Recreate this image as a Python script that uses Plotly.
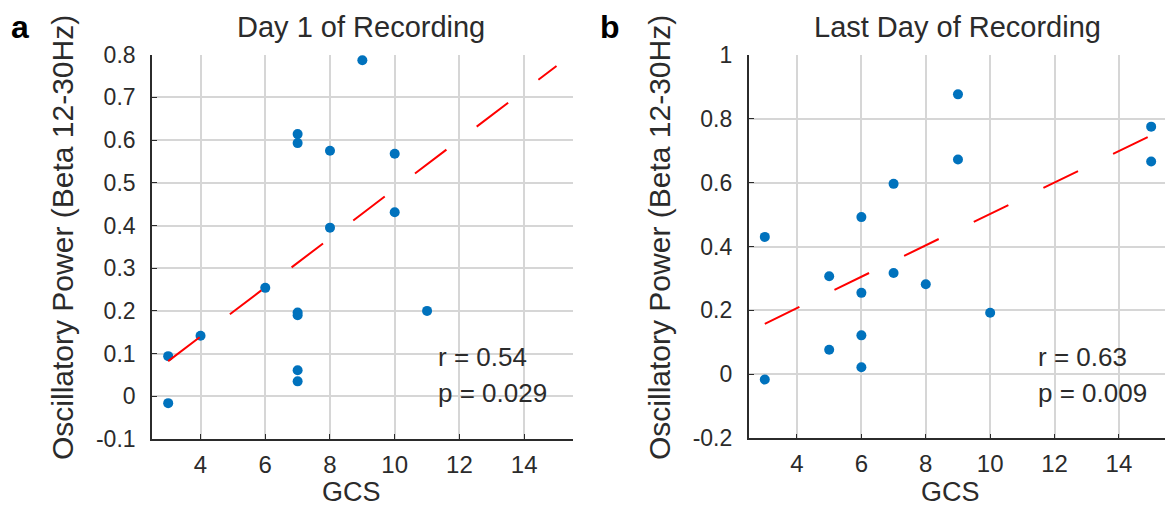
import numpy as np
import plotly.graph_objects as go

# ---------------- data ----------------
gcs_day1 = [3, 3, 4, 6, 7, 7, 7, 7, 7, 7, 8, 8, 9, 10, 10, 11]
beta_day1 = [0.094, -0.016, 0.142, 0.254, 0.614, 0.593, 0.196, 0.190, 0.061, 0.035,
             0.575, 0.395, 0.787, 0.568, 0.431, 0.200]

gcs_last = [3, 3, 5, 5, 6, 6, 6, 6, 7, 7, 8, 9, 9, 10, 15, 15]
beta_last = [0.430, -0.016, 0.307, 0.077, 0.492, 0.255, 0.122, 0.022, 0.596, 0.317,
             0.282, 0.876, 0.672, 0.193, 0.775, 0.666]

fit_x_span = [3, 15]

x_tickvals = [4, 6, 8, 10, 12, 14]
x_ticktext = ["4", "6", "8", "10", "12", "14"]
ya_tickvals = [-0.1, 0, 0.1, 0.2, 0.3, 0.4, 0.5, 0.6, 0.7, 0.8]
ya_ticktext = ["-0.1", "0", "0.1", "0.2", "0.3", "0.4", "0.5", "0.6", "0.7", "0.8"]
yb_tickvals = [-0.2, 0, 0.2, 0.4, 0.6, 0.8, 1.0]
yb_ticktext = ["-0.2", "0", "0.2", "0.4", "0.6", "0.8", "1"]

titles = ["Day 1 of Recording", "Last Day of Recording"]
stats_a = ["r = 0.54", "p = 0.029"]
stats_b = ["r = 0.63", "p = 0.009"]
panel_letters = ["a", "b"]
xlabel = "GCS"
ylabel = "Oscillatory Power (Beta 12-30Hz)"

# ---------------- styling ----------------
W, H = 1165, 520
FONT = "Liberation Sans, Arial, Helvetica, sans-serif"
TXT = "#2b2b2b"
BLUE = "#0072BD"
GRID = "#D6D6D6"


def px(xp):
    return xp / W


def py(yp):
    return 1 - yp / H


fig = go.Figure()


def add_panel(xs, ys, xa, ya, dash):
    fig.add_trace(go.Scatter(
        x=xs, y=ys, mode="markers", xaxis=xa, yaxis=ya,
        marker=dict(color=BLUE, size=10, line=dict(width=0)),
        showlegend=False, hoverinfo="skip", cliponaxis=False))
    slope, inter = np.polyfit(xs, ys, 1)
    fx = np.array(fit_x_span, dtype=float)
    fig.add_trace(go.Scatter(
        x=fx, y=slope * fx + inter, mode="lines", xaxis=xa, yaxis=ya,
        line=dict(color="#FF0000", width=2, dash=dash),
        showlegend=False, hoverinfo="skip"))


add_panel(gcs_day1, beta_day1, "x", "y", "39.5px,38px")
add_panel(gcs_last, beta_last, "x2", "y2", "38.5px,39px")

common_axis = dict(
    showline=True, linecolor=TXT, linewidth=1.6, mirror=False,
    ticks="inside", ticklen=5, tickwidth=1.3, tickcolor=TXT,
    showgrid=True, gridcolor=GRID, gridwidth=1.5, zeroline=False,
    automargin=False,
    tickfont=dict(family=FONT, size=23, color=TXT),
)

fig.update_layout(
    template="none",
    width=W, height=H,
    margin=dict(l=0, r=0, t=0, b=0, pad=0, autoexpand=False),
    paper_bgcolor="white", plot_bgcolor="white",
    font=dict(family=FONT, color=TXT),
    xaxis=dict(common_axis, domain=[px(152), px(572.7)], range=[2.5, 15.5],
               tickvals=x_tickvals, ticktext=x_ticktext, anchor="y",
               tickfont=dict(family=FONT, size=24, color=TXT), ticklabelstandoff=3),
    yaxis=dict(common_axis, domain=[py(439), py(54.7)], range=[-0.1, 0.8],
               tickvals=ya_tickvals, ticktext=ya_ticktext, anchor="x",
               ticklabelstandoff=10),
    xaxis2=dict(common_axis, domain=[px(748.7), 1.0], range=[2.5, 15.43],
                tickvals=x_tickvals, ticktext=x_ticktext, anchor="y2",
                tickfont=dict(family=FONT, size=24, color=TXT), ticklabelstandoff=3),
    yaxis2=dict(common_axis, domain=[py(438.3), py(54.7)], range=[-0.2, 1.0],
                tickvals=yb_tickvals, ticktext=yb_ticktext, anchor="x2",
                ticklabelstandoff=10),
)

ann = []
# panel letters
for letter, xp in zip(panel_letters, [9, 598]):
    ann.append(dict(text="<b>%s</b>" % letter, x=px(xp), y=py(27), xref="paper", yref="paper",
                    xanchor="left", yanchor="middle", showarrow=False,
                    font=dict(family=FONT, size=32, color="black")))
# titles
for t, xc in zip(titles, [361, 957.5]):
    ann.append(dict(text=t, x=px(xc), y=py(26.5), xref="paper", yref="paper",
                    xanchor="center", yanchor="middle", showarrow=False,
                    font=dict(family=FONT, size=29, color=TXT)))
# y labels
for xc in [63, 660]:
    ann.append(dict(text=ylabel, x=px(xc), y=py(238), xref="paper", yref="paper",
                    xanchor="center", yanchor="middle", textangle=-90, showarrow=False,
                    font=dict(family=FONT, size=30, color=TXT)))
# x labels
for xc in [351, 950]:
    ann.append(dict(text=xlabel, x=px(xc), y=py(492), xref="paper", yref="paper",
                    xanchor="center", yanchor="middle", showarrow=False,
                    font=dict(family=FONT, size=27, color=TXT)))
# stats
for lines, xl in [(stats_a, 436), (stats_b, 1036)]:
    for line, yc in zip(lines, [357, 393]):
        ann.append(dict(text=line, x=px(xl), y=py(yc), xref="paper", yref="paper",
                        xanchor="left", yanchor="middle", showarrow=False,
                        font=dict(family=FONT, size=26, color=TXT)))

fig.update_layout(annotations=ann)
fig.write_html("out.html", post_script="document.body.style.margin='0';",
               config={"displayModeBar": False})
